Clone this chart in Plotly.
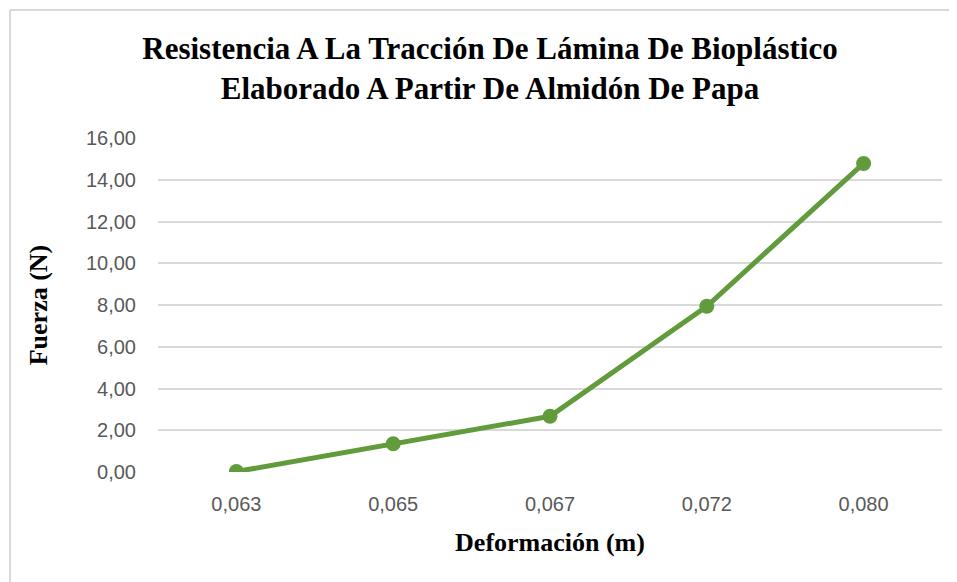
import plotly.graph_objects as go

deformacion = ["0,063", "0,065", "0,067", "0,072", "0,080"]
fuerza = [0.02, 1.35, 2.67, 7.94, 14.78]
y_ticks = [0, 2, 4, 6, 8, 10, 12, 14, 16]

title_text = "Resistencia A La Tracción De Lámina De Bioplástico<br>Elaborado A Partir De Almidón De Papa"

# page body has an 8px margin; figure drawn at (8, 8)
W, H = 949, 574
ML, MR, MT, MB = 150, 15, 130, 110

fig = go.Figure()
fig.add_trace(go.Scatter(
    x=deformacion, y=fuerza, mode="lines+markers",
    line=dict(color="#629b3c", width=5),
    marker=dict(color="#629b3c", size=15),
    showlegend=False,
))

serif = "Liberation Serif, Times New Roman, serif"
sans = "Liberation Sans, Arial, sans-serif"

fig.update_layout(
    width=W, height=H,
    margin=dict(l=ML, r=MR, t=MT, b=MB),
    paper_bgcolor="white", plot_bgcolor="white",
    separators=",.",
    title=dict(text=title_text, x=482 / W, xanchor="center",
               y=1 - 51 / H, yanchor="top",
               font=dict(family=serif, size=31, color="#000000", weight="bold")),
    xaxis=dict(
        type="category", range=[-0.5, 4.5], showgrid=False, zeroline=False, showline=False,
        ticks="outside", ticklen=14, tickcolor="rgba(0,0,0,0)",
        tickfont=dict(family=sans, size=20, color="#595959"),
        title=dict(text="<b>Deformación (m)</b>", standoff=18,
                   font=dict(family=serif, size=26, color="#000000")),
    ),
    yaxis=dict(
        range=[0, 16], tickvals=y_ticks, tickformat=".2f",
        showgrid=True, gridcolor="#d9d9d9", gridwidth=1.5,
        zeroline=False, showline=False,
        ticks="outside", ticklen=17, tickcolor="rgba(0,0,0,0)",
        tickfont=dict(family=sans, size=20, color="#595959"),
        title=dict(text="<b>Fuerza (N)</b>", standoff=30,
                   font=dict(family=serif, size=26, color="#000000")),
    ),
)

PW, PH = W - ML - MR, H - MT - MB
fig.add_shape(type="line", xref="paper", yref="paper",
              x0=(2 - ML) / PW, x1=(W - ML) / PW,
              y0=1 + (MT - 2) / PH, y1=1 + (MT - 2) / PH,
              line=dict(color="#d9d9d9", width=2))
fig.add_shape(type="line", xref="paper", yref="paper",
              x0=(2 - ML) / PW, x1=(2 - ML) / PW,
              y0=1 + (MT - 2) / PH, y1=-MB / PH,
              line=dict(color="#d9d9d9", width=2))

fig.write_html("out.html")
